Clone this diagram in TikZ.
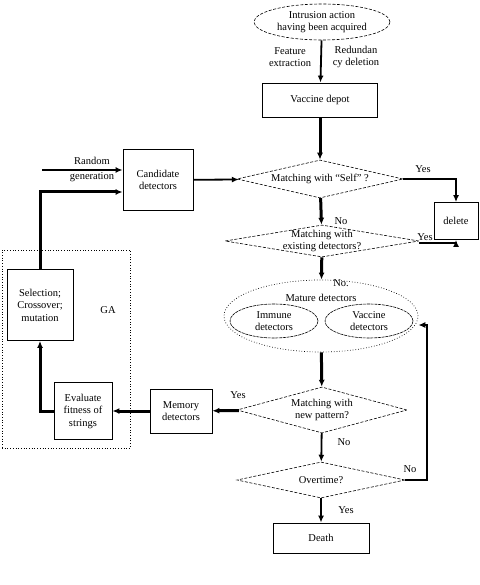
\documentclass[tikz,border=0pt]{standalone}
\usepackage{fontspec}
\setmainfont{Liberation Serif}
\usetikzlibrary{arrows.meta, shapes.geometric}
\definecolor{ink}{HTML}{000000}
\tikzset{
  txt/.style={font=\fontsize{10.5}{12.5}\selectfont, align=center, inner sep=1pt, text=ink},
  box/.style={txt, draw=ink, line width=0.8pt, inner sep=2pt},
  decision/.style={diamond, draw=ink, line width=0.6pt, dash pattern=on 3pt off 1.6pt, inner sep=0pt},
  source/.style={ellipse, draw=ink, line width=0.6pt, dash pattern=on 3pt off 1.6pt, inner sep=0pt},
  pool/.style={ellipse, draw=ink, line width=0.7pt, dotted, inner sep=0pt},
  subpool/.style={ellipse, draw=ink, line width=0.6pt, dash pattern=on 3pt off 0.8pt, inner sep=0pt},
  region/.style={rectangle, draw=ink, line width=0.7pt, dotted, inner sep=0pt},
  inside/.style={txt},
  arrow/.style={-{Latex[length=7pt,width=6pt]}, line width=1.8pt, draw=ink},
  heavy/.style={arrow, line width=3pt},
  heavyline/.style={line width=3pt, draw=ink}
}

\begin{document}
\begin{tikzpicture}[x=1pt, y=-1pt]
\useasboundingbox (0,0) rectangle (479,585);

\node[source, minimum width=136pt, minimum height=36pt,
  label={[inside]center:Intrusion action\\having been acquired}] (intrusion) at (322,22) {};
\node[box, minimum width=115pt, minimum height=34pt] (depot) at (320,100) {Vaccine depot};

\node[decision, minimum width=166pt, minimum height=38pt,
  label={[inside]center:Matching with ``Self'' ?}] (self) at (320,179) {};
\node[box, minimum width=70pt, minimum height=61pt] (candidate) at (158,180) {Candidate\\detectors};
\node[box, minimum width=44pt, minimum height=37pt] (delete) at (456,221) {delete};

\node[decision, minimum width=194pt, minimum height=32pt,
  label={[inside]center:Matching with\\existing detectors?}] (existing) at (322,241) {};

\node[pool, minimum width=194pt, minimum height=72pt] (mature) at (321,316) {};
\node[txt] (maturetitle) at (321,298) {Mature detectors};
\node[subpool, minimum width=88pt, minimum height=34pt,
  label={[inside]center:Immune\\detectors}] (immune) at (274,321) {};
\node[subpool, minimum width=88pt, minimum height=34pt,
  label={[inside]center:Vaccine\\detectors}] (vaccine) at (369,321) {};

\node[decision, minimum width=170pt, minimum height=46pt,
  label={[inside]center:Matching with\\new pattern?}] (pattern) at (322,410) {};
\node[box, minimum width=62pt, minimum height=44pt] (memory) at (181,411) {Memory\\detectors};

\node[region, minimum width=128pt, minimum height=198pt] (ga) at (66,349) {};
\node[txt] (galabel) at (108,310) {GA};
\node[box, minimum width=58pt, minimum height=57pt] (evaluate) at (83,411) {Evaluate\\fitness of\\strings};
\node[box, minimum width=66pt, minimum height=71pt] (selection) at (40,305) {Selection;\\Crossover;\\mutation};

\node[decision, minimum width=168pt, minimum height=36pt,
  label={[inside]center:Overtime?}] (overtime) at (321,480) {};
\node[box, minimum width=96pt, minimum height=30pt] (death) at (321,538) {Death};

% edge labels
\node[txt] (featurelbl) at (290,57) {Feature\\extraction};
\node[txt] (redundlbl) at (356,57) {Redundan\\cy deletion};
\node[txt] (randomlbl) at (92,161) {Random};
\node[txt] (genlbl) at (92,177) {generation};
\node[txt] (yesself) at (423,169) {Yes};
\node[txt] (noself) at (341,221) {No};
\node[txt] (yesexist) at (425,237) {Yes};
\node[txt] (noexist) at (341,283) {No.};
\node[txt] (yespattern) at (238,395) {Yes};
\node[txt] (nopattern) at (344,442) {No};
\node[txt] (noover) at (410,469) {No};
\node[txt] (yesover) at (346,510) {Yes};

\coordinate (randin) at (42,170);
\coordinate (loopcorner) at (427,325);

\draw[arrow] (intrusion) -- (depot);
\draw[heavy] (depot) -- (self);
\draw[arrow] (randin) -- ([yshift=10pt]candidate.west);
\draw[arrow] (candidate) -- (self);
\draw[arrow, line width=2.4pt] (self.east) -| (delete.north);
\draw[heavy] (self) -- (existing);
\draw[arrow, line width=2.4pt] ([yshift=-2pt]existing.east) -| (delete.south);
\draw[heavy] (existing) -- (mature);
\draw[heavy] (mature) -- (pattern);
\draw[heavy] (pattern) -- (memory);
\draw[heavy] (memory) -- (evaluate);
\draw[heavy] (evaluate.west) -| (selection.south);
\draw[heavy] (selection.north) |- ([yshift=-12pt]candidate.west);
\draw[arrow] (pattern) -- (overtime);
\draw[arrow] (overtime) -- (death);
\draw[arrow] (overtime.east) -| (loopcorner) -- ([yshift=-9pt]mature.east);

\end{tikzpicture}
\end{document}
